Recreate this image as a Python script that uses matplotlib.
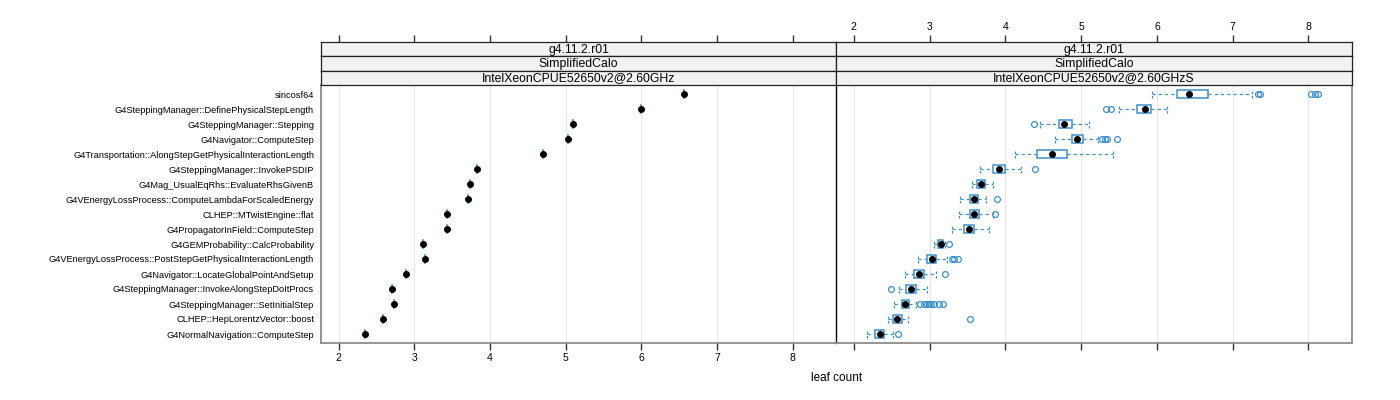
import matplotlib
matplotlib.use("Agg")
import matplotlib.pyplot as plt

plt.rcParams['font.family'] = ['Liberation Sans', 'DejaVu Sans']

functions = [
    "sincosf64",
    "G4SteppingManager::DefinePhysicalStepLength",
    "G4SteppingManager::Stepping",
    "G4Navigator::ComputeStep",
    "G4Transportation::AlongStepGetPhysicalInteractionLength",
    "G4SteppingManager::InvokePSDIP",
    "G4Mag_UsualEqRhs::EvaluateRhsGivenB",
    "G4VEnergyLossProcess::ComputeLambdaForScaledEnergy",
    "CLHEP::MTwistEngine::flat",
    "G4PropagatorInField::ComputeStep",
    "G4GEMProbability::CalcProbability",
    "G4VEnergyLossProcess::PostStepGetPhysicalInteractionLength",
    "G4Navigator::LocateGlobalPointAndSetup",
    "G4SteppingManager::InvokeAlongStepDoItProcs",
    "G4SteppingManager::SetInitialStep",
    "CLHEP::HepLorentzVector::boost",
    "G4NormalNavigation::ComputeStep",
]

# left panel: single values
left_values = [6.56, 5.99, 5.10, 5.03, 4.70, 3.83, 3.73, 3.71, 3.43, 3.43,
               3.12, 3.14, 2.89, 2.70, 2.73, 2.58, 2.35]

# right panel: box statistics
whisker_low = [5.94, 5.50, 4.46, 4.66, 4.13, 3.67, 3.56, 3.40, 3.39, 3.30,
               3.06, 2.85, 2.68, 2.59, 2.53, 2.45, 2.18]
q1 = [6.26, 5.74, 4.71, 4.88, 4.42, 3.84, 3.62, 3.53, 3.53, 3.45,
      3.11, 2.97, 2.80, 2.69, 2.63, 2.52, 2.28]
median = [6.42, 5.84, 4.77, 4.95, 4.62, 3.92, 3.68, 3.58, 3.58, 3.52,
          3.15, 3.03, 2.86, 2.76, 2.67, 2.57, 2.34]
q3 = [6.67, 5.92, 4.88, 5.03, 4.82, 3.99, 3.73, 3.64, 3.65, 3.59,
      3.18, 3.09, 2.92, 2.82, 2.73, 2.63, 2.40]
whisker_high = [7.26, 6.13, 5.10, 5.22, 5.42, 4.21, 3.84, 3.75, 3.84, 3.78,
                3.21, 3.23, 3.08, 2.96, 2.82, 2.72, 2.52]
outliers = [
    [7.33, 7.36, 8.04, 8.09, 8.12],
    [5.33, 5.40],
    [4.38],
    [5.28, 5.31, 5.34, 5.48],
    [],
    [4.39],
    [],
    [3.89],
    [3.87],
    [],
    [3.25],
    [3.29, 3.32, 3.38],
    [3.21],
    [2.49],
    [2.87, 2.92, 2.96, 2.99, 3.02, 3.06, 3.12, 3.18],
    [3.53],
    [2.58],
]

strip_left = ["g4.11.2.r01", "SimplifiedCalo", "IntelXeonCPUE52650v2@2.60GHz"]
strip_right = ["g4.11.2.r01", "SimplifiedCalo", "IntelXeonCPUE52650v2@2.60GHzS"]
xticks = [2, 3, 4, 5, 6, 7, 8]
xlabel = "leaf count"

BLUE = "#3a8fcc"
XLIM = (1.765, 8.575)
n = len(functions)
ys = [n - i for i in range(n)]
hb = 0.24

fig = plt.figure(figsize=(14, 4), dpi=100)
W, H = 1400.0, 400.0

def fx(px):
    return px / W

def fy(py):
    return 1 - py / H

panel_x = [(321, 836), (836, 1352)]
panel_top, panel_bot = 85, 343
strip_edges = [42, 56.3, 70.7, 85]

axes = []
for k, (x0, x1) in enumerate(panel_x):
    ax = fig.add_axes([fx(x0), fy(panel_bot), (x1 - x0) / W, (panel_bot - panel_top) / H])
    ax.set_xlim(*XLIM)
    ax.set_ylim(0.4, n + 0.6)
    for xt in xticks:
        ax.axvline(xt, color="#e6e6e6", lw=0.8, zorder=0)
    ax.set_xticks(xticks)
    ax.tick_params(axis="x", direction="out", length=5, width=1.0, color="#333333",
                   labelsize=7.5, pad=2)
    if k == 1:
        ax.tick_params(axis="x", labelbottom=False)
    ax.set_yticks(ys)
    if k == 0:
        ax.set_yticklabels(functions, fontsize=6.7)
        ax.tick_params(axis="y", length=0, pad=5)
    else:
        ax.tick_params(axis="y", left=False, labelleft=False)
    for s in ax.spines.values():
        s.set_color("#8c8c8c")
        s.set_linewidth(1.3)
    axes.append(ax)

# separator between panels
axes[0].spines["right"].set_visible(False)
axes[1].spines["left"].set_color("black")
axes[1].spines["left"].set_linewidth(1.0)

# left panel: single values drawn as degenerate boxes
axl = axes[0]
for y, v in zip(ys, left_values):
    axl.plot([v, v], [y - hb, y + hb], color=BLUE, lw=1.2, zorder=2)
    axl.plot(v, y, "o", color="black", ms=4, zorder=3)

# right panel: box-and-whisker plots
axr = axes[1]
dash = (0, (2.5, 2.5))
for i, y in enumerate(ys):
    wl, a, m, b, wh = whisker_low[i], q1[i], median[i], q3[i], whisker_high[i]
    axr.plot([wl, a], [y, y], color=BLUE, lw=0.9, ls=dash, zorder=2)
    axr.plot([b, wh], [y, y], color=BLUE, lw=0.9, ls=dash, zorder=2)
    axr.plot([wl, wl], [y - hb, y + hb], color=BLUE, lw=0.9, ls=(0, (2, 1.5)), zorder=2)
    axr.plot([wh, wh], [y - hb, y + hb], color=BLUE, lw=0.9, ls=(0, (2, 1.5)), zorder=2)
    axr.add_patch(plt.Rectangle((a, y - hb), b - a, 2 * hb, facecolor="white",
                                edgecolor=BLUE, lw=1.1, zorder=3))
    axr.plot(m, y, "o", color="black", ms=4, zorder=4)
    if outliers[i]:
        axr.plot(outliers[i], [y] * len(outliers[i]), "o", mfc="none", mec=BLUE,
                 ms=4.2, mew=0.9, zorder=3)

# strips
for k, (x0, x1) in enumerate(panel_x):
    texts = strip_left if k == 0 else strip_right
    for j in range(3):
        t, b_ = strip_edges[j], strip_edges[j + 1]
        sa = fig.add_axes([fx(x0), fy(b_), (x1 - x0) / W, (b_ - t) / H])
        sa.set_facecolor("#f2f2f2")
        sa.set_xlim(*XLIM)
        sa.set_ylim(0, 1)
        sa.set_yticks([])
        for s in sa.spines.values():
            s.set_color("#222222")
            s.set_linewidth(0.9)
        sa.text(0.5, 0.45, texts[j], transform=sa.transAxes, ha="center",
                va="center", fontsize=8.8)
        if j == 0:
            sa.set_xticks(xticks)
            sa.xaxis.tick_top()
            sa.tick_params(axis="x", direction="out", length=5, width=1.0,
                           color="#333333", labelsize=7.5, pad=2)
            if k == 0:
                sa.tick_params(axis="x", labeltop=False)
        else:
            sa.set_xticks([])

fig.text(fx(837), fy(378), xlabel, ha="center", va="center", fontsize=8.5)

fig.savefig("out.png", dpi=100)
